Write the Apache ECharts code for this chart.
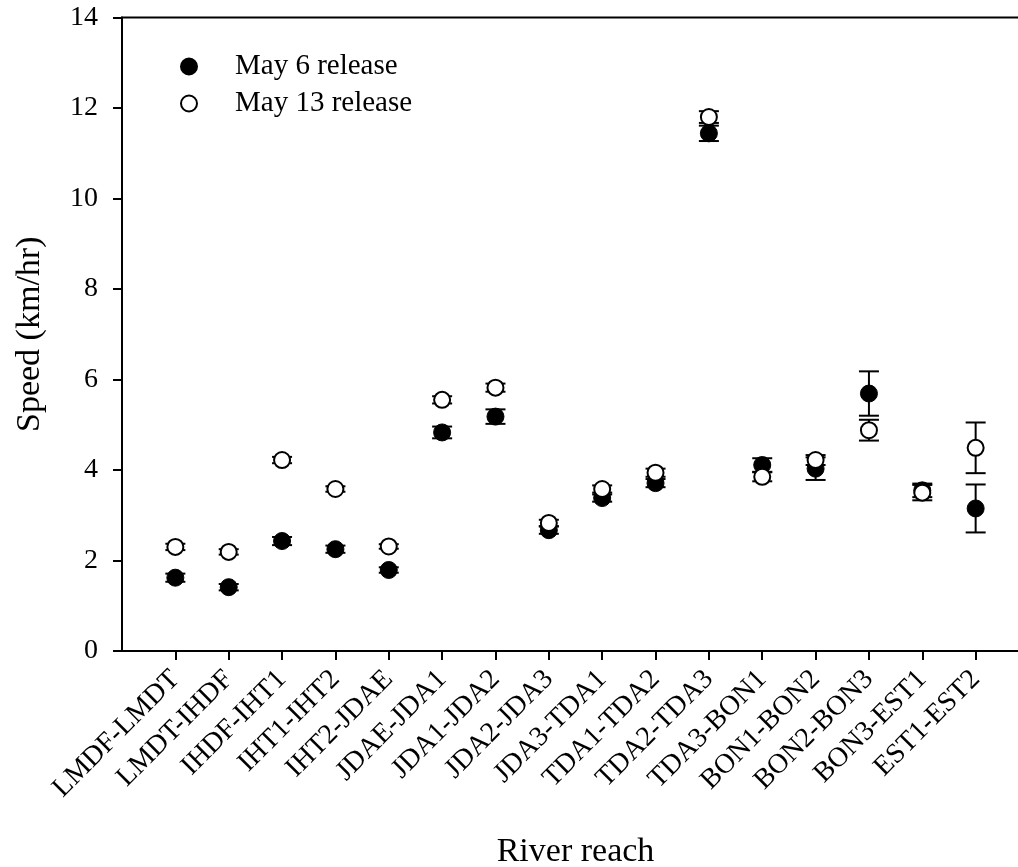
<!DOCTYPE html>
<html>
<head>
<meta charset="utf-8">
<script src="https://cdn.jsdelivr.net/npm/echarts@6/dist/echarts.min.js"></script>
<style>html,body{margin:0;padding:0;background:#fff}#c{width:1018px;height:867px}</style>
</head>
<body>
<div id="c"></div>
<script>
var categories = ['LMDF-LMDT','LMDT-IHDF','IHDF-IHT1','IHT1-IHT2','IHT2-JDAE','JDAE-JDA1','JDA1-JDA2','JDA2-JDA3','JDA3-TDA1','TDA1-TDA2','TDA2-TDA3','TDA3-BON1','BON1-BON2','BON2-BON3','BON3-EST1','EST1-EST2'];
var may6 = [1.62,1.41,2.43,2.25,1.79,4.83,5.18,2.67,3.38,3.71,11.44,4.11,4.03,5.69,3.55,3.15];
var may6Err = [0.09,0.07,0.09,0.08,0.06,0.13,0.16,0.08,0.08,0.09,0.17,0.15,0.25,0.49,0.15,0.53];
var may13 = [2.30,2.19,4.22,3.58,2.31,5.55,5.82,2.83,3.58,3.94,11.80,3.85,4.22,4.88,3.50,4.49];
var may13Err = [0.07,0.06,0.07,0.06,0.05,0.08,0.09,0.07,0.08,0.09,0.13,0.10,0.11,0.23,0.17,0.56];
var yTicks = [0,2,4,6,8,10,12,14];

var FONT = '"Liberation Serif","Times New Roman",serif';
var positions = categories.map(function(c,i){return i+1;});

function pts(vals){ return vals.map(function(v,i){return [i+1, v];}); }
function errs(vals, e){ return vals.map(function(v,i){return [i+1, v, e[i]];}); }

function errRender(params, api){
  var x = api.value(0), y = api.value(1), e = api.value(2);
  var top = api.coord([x, y+e]);
  var bot = api.coord([x, y-e]);
  var hw = 10;
  var style = {stroke:'#000', lineWidth:2, fill:null};
  return {type:'group', children:[
    {type:'line', shape:{x1:top[0],y1:top[1],x2:bot[0],y2:bot[1]}, style:style},
    {type:'line', shape:{x1:top[0]-hw,y1:top[1],x2:top[0]+hw,y2:top[1]}, style:style},
    {type:'line', shape:{x1:bot[0]-hw,y1:bot[1],x2:bot[0]+hw,y2:bot[1]}, style:style}
  ]};
}

var chart = echarts.init(document.getElementById('c'), null, {renderer:'canvas'});
chart.setOption({
  animation:false,
  backgroundColor:'#fff',
  grid:{left:122, top:17.5, width:907, height:633.5, show:true, borderColor:'#000', borderWidth:2, containLabel:false, outerBoundsMode:'none'},
  legend:{
    orient:'vertical', left:175, top:47, itemWidth:16, itemHeight:16, itemGap:8,
    textStyle:{fontFamily:FONT, fontSize:29, color:'#000', lineHeight:29, padding:[0,0,0,33]},
    data:['May 6 release','May 13 release']
  },
  xAxis:{
    type:'value', min:0, max:17, interval:1,
    name:'River reach', nameLocation:'middle', nameGap:184,
    nameTextStyle:{fontFamily:FONT, fontSize:34, color:'#000'},
    axisLine:{show:true, lineStyle:{color:'#000', width:2}},
    axisTick:{show:true, inside:false, length:9, lineStyle:{color:'#000', width:2}, customValues:positions},
    axisLabel:{rotate:45, fontFamily:FONT, fontSize:28, color:'#000', margin:24, customValues:positions,
      formatter:function(v){ var i=Math.round(v)-1; return categories[i]||''; }},
    splitLine:{show:false}
  },
  yAxis:{
    type:'value', min:0, max:14, interval:2,
    name:'Speed (km/hr)', nameLocation:'middle', nameGap:75, nameRotate:90,
    nameTextStyle:{fontFamily:FONT, fontSize:34, color:'#000'},
    axisLine:{show:true, lineStyle:{color:'#000', width:2}},
    axisTick:{show:true, inside:false, length:9, lineStyle:{color:'#000', width:2}, customValues:yTicks},
    axisLabel:{fontFamily:FONT, fontSize:28, color:'#000', margin:24, customValues:yTicks},
    splitLine:{show:false}
  },
  series:[
    {type:'custom', name:'err6', renderItem:errRender, data:errs(may6, may6Err), encode:{x:0,y:1}, z:2, silent:true},
    {type:'scatter', name:'May 6 release', data:pts(may6), symbol:'circle', symbolSize:17,
      itemStyle:{color:'#000', borderColor:'#000', borderWidth:1, opacity:1}, z:3},
    {type:'custom', name:'err13', renderItem:errRender, data:errs(may13, may13Err), encode:{x:0,y:1}, z:4, silent:true},
    {type:'scatter', name:'May 13 release', data:pts(may13), symbol:'circle', symbolSize:16,
      itemStyle:{color:'#fff', borderColor:'#000', borderWidth:2, opacity:1}, z:5}
  ]
});
</script>
</body>
</html>
